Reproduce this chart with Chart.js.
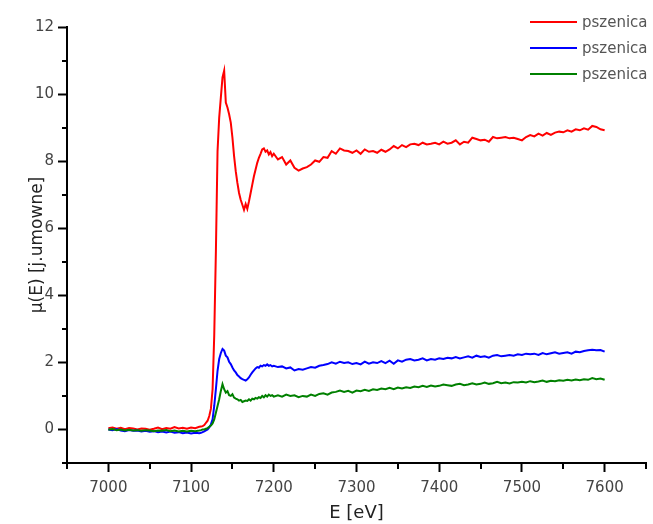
<!DOCTYPE html>
<html>
<head>
<meta charset="utf-8">
<script src="https://cdn.jsdelivr.net/npm/chart.js@4.4.0/dist/chart.umd.min.js"></script>
<style>
  body { margin: 0; background: #fff; }
  #chart { display: block; }
</style>
</head>
<body>
<canvas id="chart" width="653" height="524"></canvas>
<script>
// energy points (eV): 5 eV below the edge, 2 eV across the edge, 5 eV above
const energies = [
  7000, 7005, 7010, 7015, 7020, 7025, 7030, 7035, 7040, 7045,
  7050, 7055, 7060, 7065, 7070, 7075, 7080, 7085, 7090, 7095,
  7100, 7105, 7110,
  7112, 7114, 7116, 7118, 7120, 7122, 7124, 7126, 7128, 7130,
  7132, 7134, 7136, 7138, 7140, 7142, 7144, 7146, 7148, 7150,
  7152, 7154, 7156, 7158, 7160, 7162, 7164, 7166, 7168, 7170,
  7172, 7174, 7176, 7178, 7180, 7182, 7184, 7186, 7188, 7190,
  7192, 7194, 7196, 7198, 7200,
  7205, 7210, 7215, 7220, 7225, 7230, 7235, 7240, 7245, 7250,
  7255, 7260, 7265, 7270, 7275, 7280, 7285, 7290, 7295, 7300,
  7305, 7310, 7315, 7320, 7325, 7330, 7335, 7340, 7345, 7350,
  7355, 7360, 7365, 7370, 7375, 7380, 7385, 7390, 7395, 7400,
  7405, 7410, 7415, 7420, 7425, 7430, 7435, 7440, 7445, 7450,
  7455, 7460, 7465, 7470, 7475, 7480, 7485, 7490, 7495, 7500,
  7505, 7510, 7515, 7520, 7525, 7530, 7535, 7540, 7545, 7550,
  7555, 7560, 7565, 7570, 7575, 7580, 7585, 7590, 7595, 7600
];

const muRed = [
  0.04, 0.06, 0.02, 0.05, 0.01, 0.04, 0.03, 0.00, 0.03, 0.02,
  -0.01, 0.02, 0.06, 0.01, 0.04, 0.02, 0.07, 0.03, 0.05, 0.02,
  0.06, 0.04, 0.08,
  0.09, 0.10, 0.13, 0.20, 0.26, 0.40, 0.62, 1.20, 2.80, 5.30,
  8.30, 9.30, 9.90, 10.50, 10.70, 9.75, 9.60, 9.40, 9.15, 8.70,
  8.15, 7.70, 7.35, 7.05, 6.85, 6.70, 6.55, 6.72, 6.58, 6.80,
  7.05, 7.30, 7.55, 7.75, 7.95, 8.10, 8.22, 8.35, 8.38, 8.28,
  8.32, 8.20, 8.27, 8.15, 8.22,
  8.05, 8.12, 7.90, 8.02, 7.80, 7.72, 7.78, 7.82, 7.90, 8.02,
  7.98, 8.12, 8.10, 8.30, 8.22, 8.38, 8.32, 8.30, 8.25, 8.32,
  8.22, 8.35, 8.28, 8.30, 8.25, 8.34, 8.28, 8.35, 8.45, 8.38,
  8.48, 8.42, 8.50, 8.52, 8.48, 8.55, 8.50, 8.52, 8.55, 8.50,
  8.58, 8.52, 8.55, 8.62, 8.50, 8.58, 8.55, 8.70, 8.66, 8.62,
  8.64, 8.58, 8.72, 8.68, 8.70, 8.72, 8.68, 8.70, 8.66, 8.62,
  8.72, 8.78, 8.74, 8.82, 8.76, 8.84, 8.78, 8.85, 8.88, 8.86,
  8.92, 8.88, 8.95, 8.92, 8.98, 8.94, 9.05, 9.02, 8.95, 8.92
];

const muBlue = [
  0.00, -0.02, 0.01, -0.03, -0.05, -0.02, -0.04, -0.03, -0.06, -0.04,
  -0.07, -0.05, -0.08, -0.06, -0.09, -0.06, -0.10, -0.08, -0.11, -0.09,
  -0.12, -0.10, -0.11,
  -0.10, -0.08, -0.06, -0.03, 0.00, 0.06, 0.15, 0.30, 0.70, 1.20,
  1.75, 2.10, 2.28, 2.40, 2.35, 2.20, 2.15, 2.02, 1.95, 1.85,
  1.76, 1.70, 1.62, 1.58, 1.53, 1.50, 1.48, 1.46, 1.50, 1.55,
  1.63, 1.70, 1.76, 1.82, 1.86, 1.84, 1.90, 1.88, 1.92, 1.90,
  1.94, 1.90, 1.92, 1.88, 1.90,
  1.86, 1.88, 1.82, 1.85, 1.76, 1.80, 1.78, 1.82, 1.86, 1.84,
  1.90, 1.92, 1.95, 2.00, 1.96, 2.02, 1.98, 2.00, 1.95, 1.98,
  1.94, 2.02, 1.96, 2.00, 1.98, 2.04, 1.98, 2.05, 1.96, 2.06,
  2.02, 2.08, 2.10, 2.06, 2.08, 2.12, 2.06, 2.10, 2.08, 2.12,
  2.10, 2.14, 2.12, 2.16, 2.12, 2.15, 2.18, 2.14, 2.20, 2.16,
  2.18, 2.14, 2.20, 2.22, 2.18, 2.20, 2.22, 2.20, 2.24, 2.22,
  2.26, 2.24, 2.26, 2.22, 2.28, 2.24, 2.27, 2.30, 2.26, 2.28,
  2.30, 2.26, 2.32, 2.30, 2.34, 2.36, 2.38, 2.36, 2.37, 2.32
];

const muGreen = [
  -0.01, 0.01, -0.02, 0.00, -0.03, -0.01, -0.03, -0.02, -0.04, -0.02,
  -0.03, -0.05, -0.03, -0.04, -0.02, -0.05, -0.03, -0.06, -0.04, -0.06,
  -0.04, -0.05, -0.03,
  -0.02, 0.00, 0.00, 0.02, 0.04, 0.08, 0.12, 0.18, 0.30, 0.50,
  0.70, 0.90, 1.15, 1.35, 1.20, 1.10, 1.14, 1.02, 1.00, 1.05,
  0.95, 0.92, 0.90, 0.86, 0.88, 0.82, 0.84, 0.86, 0.85, 0.90,
  0.86, 0.92, 0.90, 0.94, 0.92, 0.96, 0.94, 1.00, 0.96, 1.02,
  0.98, 1.04, 1.00, 1.02, 0.98,
  1.02, 0.98, 1.04, 1.00, 1.02, 0.96, 1.00, 0.98, 1.04, 1.00,
  1.06, 1.08, 1.04, 1.10, 1.12, 1.16, 1.12, 1.15, 1.10, 1.16,
  1.14, 1.18, 1.15, 1.20, 1.18, 1.22, 1.20, 1.24, 1.20, 1.25,
  1.22, 1.26, 1.24, 1.28, 1.26, 1.30, 1.27, 1.31, 1.28, 1.30,
  1.34, 1.32, 1.30, 1.34, 1.36, 1.32, 1.34, 1.38, 1.34, 1.36,
  1.40, 1.36, 1.38, 1.42, 1.38, 1.40, 1.37, 1.41, 1.40, 1.42,
  1.40, 1.44, 1.41, 1.43, 1.46, 1.42, 1.45, 1.44, 1.47, 1.45,
  1.48, 1.46, 1.49, 1.47, 1.50, 1.48, 1.53, 1.50, 1.52, 1.48
];

const seriesNames = ['pszenica', 'pszenica', 'pszenica'];
const seriesColors = ['#ff0000', '#0000ff', '#008000'];
const xLabelStep = 100;   // labelled ticks every 100 eV
const yLabelStep = 2;     // labelled ticks every 2 units

function points(ys) {
  return energies.map(function(e, i) { return {x: e, y: ys[i]}; });
}

const allSeries = [muRed, muBlue, muGreen];
const datasets = allSeries.map(function(ys, i) {
  return {
    label: seriesNames[i],
    data: points(ys),
    borderColor: seriesColors[i],
    backgroundColor: seriesColors[i],
    borderWidth: 2,
    pointRadius: 0,
    tension: 0,
    order: allSeries.length - i
  };
});

// short ticks at unlabelled positions + legend in the top right corner
const extrasPlugin = {
  id: 'extras',
  afterDraw(chart) {
    const ctx = chart.ctx;
    const xs = chart.scales.x, ys = chart.scales.y;
    ctx.save();
    ctx.strokeStyle = '#000';
    ctx.lineWidth = 2;
    xs.ticks.forEach(function(t) {
      if (t.value % xLabelStep !== 0) {
        const px = Math.round(xs.getPixelForValue(t.value));
        ctx.beginPath();
        ctx.moveTo(px, xs.top);
        ctx.lineTo(px, xs.top + 6);
        ctx.stroke();
      }
    });
    ys.ticks.forEach(function(t) {
      if (t.value % yLabelStep !== 0) {
        const py = Math.round(ys.getPixelForValue(t.value));
        ctx.beginPath();
        ctx.moveTo(ys.right, py);
        ctx.lineTo(ys.right - 5, py);
        ctx.stroke();
      }
    });

    ctx.font = '15px "DejaVu Sans"';
    ctx.textBaseline = 'middle';
    ctx.textAlign = 'left';
    seriesNames.forEach(function(name, i) {
      const y = 22 + i * 26;
      ctx.strokeStyle = seriesColors[i];
      ctx.lineWidth = 2;
      ctx.beginPath();
      ctx.moveTo(530, y);
      ctx.lineTo(577, y);
      ctx.stroke();
      ctx.fillStyle = '#555';
      ctx.fillText(name, 582, y + 1);
    });
    ctx.restore();
  }
};

new Chart(document.getElementById('chart'), {
  type: 'line',
  data: { datasets: datasets },
  options: {
    responsive: false,
    animation: false,
    events: [],
    layout: { padding: { top: 27, right: 0, left: 0, bottom: 0 } },
    plugins: {
      legend: { display: false },
      tooltip: { enabled: false }
    },
    scales: {
      x: {
        type: 'linear',
        min: 6950,
        max: 7650,
        afterFit: function(s) { s.height = 61; },
        border: { display: true, color: '#000', width: 2 },
        grid: {
          drawOnChartArea: false,
          drawTicks: true,
          tickLength: 9,
          tickWidth: 2,
          tickColor: function(c) {
            return c.tick && c.tick.value % xLabelStep === 0 ? '#000' : 'rgba(0,0,0,0)';
          }
        },
        ticks: {
          stepSize: 50,
          autoSkip: false,
          maxRotation: 0,
          padding: 7,
          color: '#444',
          font: { family: 'DejaVu Sans', size: 15 },
          callback: function(v) { return v % xLabelStep === 0 ? String(v) : ''; }
        },
        title: {
          display: true,
          text: 'E [eV]',
          color: '#222',
          font: { family: 'DejaVu Sans', size: 18 },
          padding: 0
        }
      },
      y: {
        min: -1,
        max: 12,
        afterFit: function(s) { s.width = 67; },
        border: { display: true, color: '#000', width: 2 },
        grid: {
          drawOnChartArea: false,
          drawTicks: true,
          tickLength: 9,
          tickWidth: 2,
          tickColor: function(c) {
            return c.tick && c.tick.value % yLabelStep === 0 ? '#000' : 'rgba(0,0,0,0)';
          }
        },
        ticks: {
          stepSize: 1,
          autoSkip: false,
          padding: 4,
          color: '#444',
          font: { family: 'DejaVu Sans', size: 15 },
          callback: function(v) { return v % yLabelStep === 0 ? String(v) : ''; }
        },
        title: {
          display: true,
          text: 'μ(E) [j.umowne]',
          color: '#222',
          font: { family: 'DejaVu Sans', size: 17 },
          padding: 27
        }
      }
    }
  },
  plugins: [extrasPlugin]
});
</script>
</body>
</html>
